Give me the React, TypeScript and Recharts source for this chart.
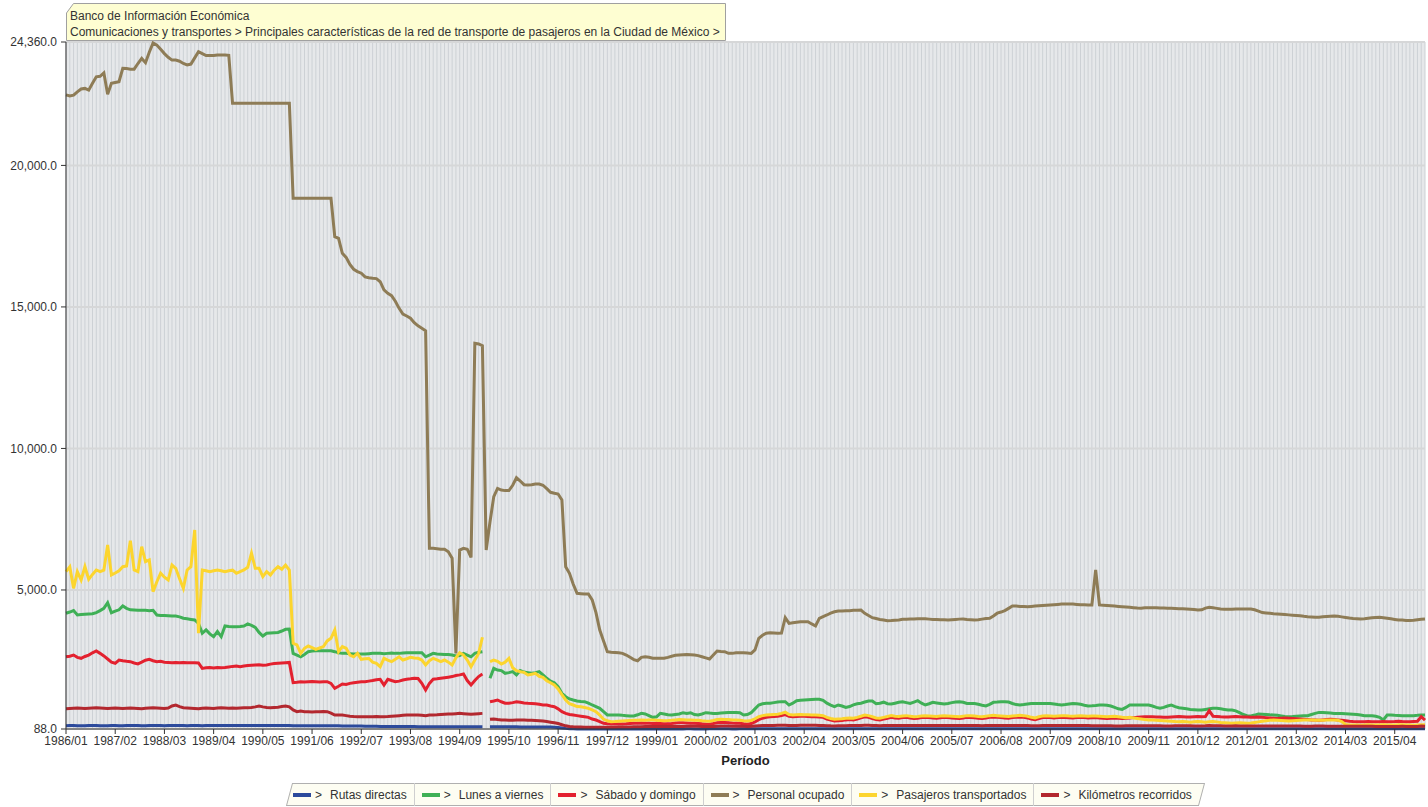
import React from 'react';
import { LineChart, Line, XAxis, YAxis, CartesianGrid } from 'recharts';

// months 1986/01 .. 2015/12
const startYear = 1986;
const endYear = 2015;
const periods: string[] = [];
for (let y = startYear; y <= endYear; y++) {
  for (let m = 1; m <= 12; m++) periods.push(`${y}/${String(m).padStart(2, '0')}`);
}

const yTicks = [88, 5000, 10000, 15000, 20000, 24360];

const rutasDirectas = [
  205, 208, 210, 206, 204, 206, 210, 212, 208, 205, 204, 206,
  208, 210, 206, 205, 208, 210, 212, 208, 206, 205, 208, 210,
  210, 208, 206, 208, 210, 212, 210, 208, 206, 208, 210, 208,
  206, 208, 210, 210, 212, 210, 208, 210, 212, 210, 208, 210,
  212, 214, 212, 210, 212, 214, 215, 214, 212, 214, 215, 212,
  205, 204, 205, 206, 205, 204, 205, 206, 205, 204, 202, 200,
  200, 198, 196, 195, 194, 192, 190, 188, 186, 184, 182, 180,
  178, 176, 175, 175, 174, 174, 173, 172, 172, 171, 170, 170,
  170, 170, 169, 168, 168, 168, 167, 167, 166, 166, 166, 165,
  165, 165, 165, null, 165, 166, 166, 165, 165, 164, 164, 164,
  163, 163, 162, 162, 162, 161, 161, 160, 158, 150, 140, 125,
  110, 100, 95, 92, 90, 90, 90, 90, 90, 90, 90, 90,
  90, 89, 89, 88, 88, 89, 90, 90, 91, 91, 90, 90,
  90, 91, 92, 92, 92, 91, 91, 92, 93, 93, 92, 92,
  92, 92, 93, 93, 94, 94, 93, 93, 92, 92, 93, 93,
  94, 95, 96, 97, 98, 98, 98, 99, 99, 98, 98, 98,
  98, 99, 100, 100, 100, 99, 99, 98, 98, 98, 98, 98,
  98, 98, 99, 99, 100, 100, 100, 99, 99, 98, 98, 98,
  98, 98, 99, 99, 99, 99, 99, 99, 98, 98, 98, 98,
  98, 98, 98, 99, 99, 99, 99, 99, 99, 98, 98, 98,
  98, 98, 98, 98, 99, 99, 99, 99, 99, 99, 98, 98,
  98, 98, 98, 98, 98, 99, 99, 99, 99, 98, 98, 98,
  98, 98, 98, 98, 98, 98, 99, 99, 99, 98, 98, 98,
  97, 97, 97, 97, 98, 98, 98, 98, 98, 97, 97, 97,
  97, 97, 97, 97, 97, 97, 98, 98, 98, 97, 97, 97,
  96, 96, 96, 96, 97, 97, 97, 97, 97, 96, 96, 96,
  96, 96, 96, 96, 96, 96, 96, 96, 96, 96, 96, 96,
  95, 95, 95, 95, 95, 96, 96, 96, 96, 95, 95, 95,
  95, 95, 95, 95, 95, 95, 95, 95, 95, 95, 95, 95,
  94, 94, 94, 94, 94, 94, 94, 94, 94, 94, 94, 94,
];

const lunesAViernes = [
  4176, 4220, 4270, 4116, 4130, 4140, 4150, 4160, 4200, 4270, 4350, 4550,
  4197, 4250, 4300, 4434, 4350, 4300, 4290, 4280, 4280, 4280, 4270, 4280,
  4116, 4100, 4100, 4090, 4080, 4080, 4050, 4000, 3980, 3960, 3940, 3822,
  3470, 3590, 3450, 3350, 3530, 3350, 3727, 3710, 3700, 3700, 3710, 3727,
  3800, 3750, 3680, 3500, 3374, 3470, 3480, 3490, 3500, 3550, 3610, 3620,
  2760, 2700, 2640, 2720, 2820, 2840, 2850, 2850, 2850, 2850, 2850, 2820,
  2780, 2760, 2760, 2750, 2740, 2740, 2740, 2740, 2750, 2760, 2760, 2760,
  2750, 2760, 2770, 2760, 2760, 2770, 2780, 2780, 2784, 2784, 2784, 2640,
  2700, 2760, 2740, 2730, 2720, 2720, 2700, 2670, 2680, 2760, 2700, 2640,
  2760, 2800, 2820, null, 1880, 2230, 2172, 2150, 2055, 2080, 2114, 1996,
  2150, 2100, 2080, 2055, 2080, 2114, 2000, 1880, 1780, 1724, 1583, 1350,
  1230, 1150, 1113, 1080, 1060, 1055, 1000, 936, 880, 819, 700, 583,
  583, 583, 583, 570, 560, 550, 546, 590, 640, 620, 560, 500,
  520, 640, 620, 590, 583, 600, 620, 664, 640, 664, 600, 583,
  620, 664, 650, 640, 640, 650, 660, 670, 675, 675, 660, 583,
  600, 664, 800, 936, 980, 1000, 1000, 1020, 1040, 1055, 1055, 936,
  1000, 1090, 1100, 1110, 1120, 1130, 1140, 1140, 1100, 1000, 930, 876,
  936, 900, 850, 880, 940, 980, 1000, 1040, 1078, 1078, 980, 1000,
  1035, 980, 971, 1000, 1030, 1053, 1020, 990, 1040, 1090, 1000, 936,
  980, 1030, 1010, 990, 971, 990, 1020, 1040, 1053, 1030, 990, 990,
  990, 960, 930, 905, 960, 1030, 1040, 1053, 1053, 1040, 990, 950,
  936, 950, 970, 990, 990, 990, 985, 990, 990, 970, 950, 936,
  950, 970, 990, 980, 960, 930, 905, 910, 920, 936, 936, 930,
  900, 850, 800, 780, 850, 936, 936, 936, 940, 936, 936, 900,
  850, 820, 850, 900, 936, 880, 840, 820, 800, 780, 770, 760,
  760, 780, 800, 820, 820, 800, 780, 760, 760, 730, 664, 600,
  560, 550, 580, 620, 610, 600, 590, 583, 570, 550, 530, 523,
  530, 540, 550, 560, 560, 600, 640, 675, 670, 660, 650, 640,
  640, 635, 630, 620, 610, 600, 580, 560, 560, 555, 540, 500,
  406, 583, 580, 570, 565, 560, 560, 555, 560, 570, 583, 580,
];

const sabadoYDomingo = [
  2640, 2660, 2700, 2620, 2585, 2650, 2700, 2780, 2844, 2760, 2670, 2560,
  2450, 2410, 2525, 2500, 2480, 2466, 2420, 2390, 2450, 2520, 2550, 2500,
  2466, 2480, 2450, 2440, 2430, 2440, 2430, 2440, 2430, 2430, 2430, 2420,
  2230, 2250, 2260, 2240, 2260, 2250, 2260, 2280, 2300, 2310, 2290, 2310,
  2330, 2340, 2350, 2360, 2340, 2350, 2380, 2400, 2410, 2420, 2430, 2440,
  1724, 1740, 1760, 1750, 1760, 1770, 1760, 1750, 1760, 1760, 1700, 1526,
  1600, 1678, 1660, 1700, 1720, 1740, 1760, 1760, 1780, 1800, 1830, 1844,
  1643, 1844, 1800, 1760, 1780, 1820, 1844, 1860, 1880, 1870, 1700, 1466,
  1700, 1844, 1860, 1880, 1900, 1920, 1940, 1980, 2000, 2030, 1800, 1643,
  1800, 1940, 2030, null, 1053, 1080, 1113, 1050, 1000, 995, 1020, 1053,
  1030, 1010, 995, 990, 980, 960, 940, 936, 900, 876, 800, 700,
  640, 600, 583, 560, 540, 523, 500, 440, 406, 350, 290, 275,
  265, 262, 262, 265, 270, 280, 290, 295, 300, 295, 290, 285,
  290, 280, 270, 275, 285, 300, 310, 305, 300, 295, 290, 285,
  270, 260, 255, 280, 310, 320, 315, 310, 300, 295, 290, 270,
  260, 280, 340, 420, 470, 500, 520, 530, 540, 560, 600, 540,
  520, 530, 540, 535, 530, 525, 523, 515, 500, 440, 400, 370,
  380, 390, 410, 420, 410, 440, 480, 520, 500, 460, 420, 410,
  440, 470, 500, 480, 470, 490, 500, 480, 460, 470, 490, 500,
  490, 480, 470, 485, 500, 490, 480, 470, 460, 480, 500, 495,
  485, 470, 460, 480, 500, 510, 500, 490, 480, 470, 490, 500,
  510, 500, 480, 440, 420, 460, 490, 500, 490, 480, 490, 500,
  495, 485, 480, 490, 500, 490, 480, 485, 490, 480, 470, 460,
  470, 480, 470, 460, 470, 480, 490, 500, 510, 520, 523, 520,
  515, 510, 505, 500, 510, 520, 530, 525, 515, 510, 523, 530,
  520, 530, 735, 540, 530, 520, 515, 510, 520, 530, 523, 515,
  510, 505, 500, 510, 500, 490, 480, 470, 460, 470, 480, 470,
  460, 450, 440, 430, 420, 410, 406, 400, 410, 420, 430, 420,
  410, 400, 380, 360, 350, 346, 340, 346, 350, 346, 340, 346,
  350, 340, 346, 350, 360, 350, 346, 340, 350, 360, 523, 400,
];

const personalOcupado = [
  22490, 22450, 22480, 22600, 22700, 22720, 22660, 22900, 23130, 23150, 23270, 22510,
  22900, 22930, 22960, 23430, 23420, 23400, 23400, 23600, 23780, 23630, 24000, 24330,
  24250, 24100, 23950, 23820, 23720, 23720, 23680, 23600, 23550, 23580, 23800, 24020,
  23950, 23880, 23880, 23880, 23900, 23900, 23900, 23890, 22195, 22195, 22195, 22195,
  22195, 22195, 22195, 22195, 22195, 22195, 22195, 22195, 22195, 22195, 22195, 22195,
  18838, 18838, 18838, 18838, 18838, 18838, 18838, 18838, 18838, 18838, 18838, 17480,
  17420, 16895, 16750, 16500, 16330, 16250, 16190, 16060, 16030, 16010, 16000, 15890,
  15600, 15480, 15400, 15200, 14950, 14750, 14680, 14600, 14440, 14330, 14250, 14160,
  6472, 6472, 6460, 6440, 6440, 6350, 6120, 2760, 6410, 6470, 6440, 6150,
  13715, 13690, 13630, 6410, 7400, 8300, 8590, 8530, 8510, 8510, 8700, 8966,
  8850, 8720, 8710, 8720, 8740, 8744, 8700, 8580, 8450, 8415, 8390, 8180,
  5822, 5590, 5200, 4882, 4870, 4860, 4858, 4650, 4200, 3585, 3200, 2820,
  2800, 2790, 2780, 2760, 2700, 2620, 2540, 2500, 2620, 2640, 2620, 2590,
  2585, 2585, 2585, 2620, 2660, 2690, 2700, 2710, 2720, 2710, 2700, 2680,
  2640, 2600, 2560, 2700, 2844, 2830, 2820, 2760, 2760, 2780, 2784, 2780,
  2770, 2760, 2880, 3292, 3400, 3470, 3490, 3480, 3470, 3480, 4020, 3820,
  3840, 3860, 3880, 3880, 3880, 3800, 3727, 4000, 4060, 4116, 4180, 4230,
  4257, 4260, 4265, 4270, 4280, 4285, 4290, 4175, 4100, 4020, 3990, 3960,
  3940, 3915, 3920, 3930, 3940, 3963, 3965, 3970, 3975, 3980, 3985, 3980,
  3970, 3960, 3955, 3950, 3945, 3940, 3950, 3960, 3970, 3975, 3960, 3950,
  3940, 3950, 3970, 3990, 3999, 4080, 4180, 4220, 4270, 4350, 4434, 4430,
  4420, 4415, 4410, 4420, 4430, 4440, 4450, 4460, 4470, 4480, 4490, 4500,
  4500, 4504, 4500, 4490, 4480, 4475, 4470, 4470, 5706, 4470, 4460, 4450,
  4440, 4430, 4420, 4410, 4400, 4390, 4375, 4360, 4355, 4370, 4375, 4375,
  4370, 4365, 4360, 4355, 4350, 4345, 4340, 4338, 4330, 4320, 4310, 4290,
  4300, 4360, 4388, 4370, 4350, 4330, 4317, 4320, 4322, 4325, 4327, 4328,
  4330, 4328, 4300, 4250, 4200, 4190, 4175, 4160, 4150, 4140, 4130, 4120,
  4110, 4100, 4090, 4070, 4055, 4045, 4034, 4040, 4050, 4060, 4070, 4080,
  4070, 4050, 4030, 4010, 3995, 3985, 3975, 3985, 4000, 4015, 4030, 4034,
  4020, 4000, 3980, 3960, 3940, 3935, 3925, 3920, 3930, 3950, 3965, 3975,
];

const pasajerosTransportados = [
  5646, 5820, 5058, 5646, 5352, 5822, 5377, 5550, 5706, 5646, 5700, 6589,
  5529, 5600, 5680, 5822, 5850, 6740, 5706, 5646, 6530, 6000, 6060, 4940,
  5292, 5590, 5450, 5352, 5882, 5765, 5400, 5058, 5706, 5822, 7119, 3470,
  5706, 5680, 5646, 5680, 5706, 5680, 5646, 5680, 5700, 5590, 5650, 5706,
  5800, 6300, 5765, 5765, 5470, 5646, 5530, 5700, 5822, 5730, 5882, 5706,
  3116, 3060, 2760, 2940, 3020, 2960, 2900, 2950, 3000, 3200, 3292, 3585,
  2820, 3000, 2940, 2700, 2640, 2760, 2550, 2570, 2580, 2450, 2410, 2290,
  2585, 2520, 2466, 2550, 2640, 2525, 2570, 2620, 2600, 2585, 2525, 2350,
  2500, 2585, 2530, 2466, 2525, 2450, 2350, 2600, 2784, 2700, 2525, 2290,
  2525, 2760, 3330, null, 2466, 2525, 2480, 2384, 2450, 2585, 2250, 2150,
  2110, 2090, 1996, 2020, 2055, 1950, 1914, 1795, 1720, 1643, 1500, 1300,
  1113, 980, 936, 880, 870, 850, 819, 760, 700, 580, 430, 380,
  346, 350, 360, 370, 380, 390, 395, 400, 405, 400, 406, 410,
  400, 390, 380, 385, 395, 410, 420, 415, 410, 405, 400, 395,
  380, 370, 365, 390, 420, 430, 425, 420, 410, 405, 400, 380,
  370, 390, 450, 523, 560, 580, 590, 600, 610, 640, 680, 600,
  580, 590, 600, 595, 590, 585, 583, 575, 560, 500, 460, 430,
  440, 450, 470, 480, 470, 500, 540, 580, 560, 520, 480, 470,
  500, 530, 560, 540, 530, 550, 560, 540, 520, 530, 550, 560,
  550, 540, 530, 545, 560, 550, 540, 530, 520, 540, 560, 555,
  545, 530, 520, 540, 560, 570, 560, 550, 540, 530, 550, 560,
  570, 560, 540, 500, 480, 520, 550, 560, 550, 540, 550, 560,
  555, 545, 540, 550, 560, 550, 540, 545, 550, 540, 530, 520,
  530, 540, 520, 500, 490, 500, 480, 460, 440, 420, 410, 406,
  400, 390, 380, 370, 360, 350, 346, 350, 340, 330, 346, 350,
  340, 330, 346, 350, 340, 320, 310, 300, 290, 300, 310, 300,
  290, 300, 320, 340, 360, 380, 400, 406, 400, 390, 380, 370,
  380, 390, 400, 406, 410, 406, 400, 395, 400, 406, 410, 406,
  400, 350, 250, 230, 230, 225, 220, 230, 235, 230, 225, 230,
  235, 230, 225, 230, 240, 235, 230, 225, 220, 230, 235, 240,
];

const kilometrosRecorridos = [
  800, 810, 819, 830, 819, 810, 819, 830, 840, 830, 819, 810,
  819, 830, 819, 810, 819, 830, 819, 810, 800, 819, 830, 840,
  830, 819, 810, 830, 900, 936, 880, 840, 830, 819, 810, 800,
  820, 830, 819, 810, 830, 840, 830, 819, 830, 819, 830, 840,
  840, 850, 870, 900, 870, 850, 840, 850, 860, 880, 900, 870,
  760, 700, 720, 700, 700, 690, 700, 700, 710, 700, 650, 583,
  583, 580, 560, 540, 530, 523, 523, 523, 520, 523, 530, 523,
  523, 530, 540, 550, 560, 570, 580, 583, 580, 580, 570, 560,
  583, 583, 590, 600, 610, 620, 620, 630, 640, 630, 620, 610,
  620, 630, 640, null, 430, 440, 420, 406, 406, 400, 400, 406,
  410, 406, 400, 395, 390, 380, 370, 350, 330, 310, 280, 240,
  200, 175, 165, 160, 155, 150, 150, 150, 150, 150, 150, 150,
  150, 152, 155, 158, 160, 162, 165, 168, 170, 172, 175, 175,
  178, 180, 182, 180, 178, 176, 178, 180, 182, 184, 185, 183,
  180, 178, 176, 180, 185, 190, 192, 190, 188, 186, 184, 182,
  180, 185, 195, 205, 210, 212, 215, 215, 218, 220, 222, 215,
  212, 215, 218, 220, 222, 220, 218, 215, 210, 205, 200, 198,
  200, 202, 205, 208, 210, 212, 215, 220, 218, 212, 208, 205,
  208, 210, 212, 210, 208, 210, 212, 214, 212, 210, 212, 214,
  212, 210, 208, 210, 212, 214, 215, 214, 212, 210, 208, 210,
  210, 208, 206, 208, 210, 212, 214, 212, 210, 208, 210, 212,
  214, 212, 210, 205, 200, 205, 210, 212, 210, 208, 210, 212,
  212, 210, 208, 210, 212, 210, 208, 206, 205, 204, 202, 200,
  200, 198, 196, 198, 200, 202, 204, 205, 206, 205, 204, 203,
  202, 200, 198, 196, 198, 200, 202, 203, 202, 200, 198, 198,
  198, 200, 210, 205, 202, 200, 198, 196, 198, 200, 198, 196,
  195, 194, 193, 195, 196, 195, 194, 193, 192, 193, 194, 193,
  192, 191, 190, 189, 188, 189, 190, 191, 190, 189, 188, 187,
  186, 185, 184, 183, 182, 183, 184, 183, 182, 181, 180, 180,
  180, 179, 178, 179, 180, 181, 180, 179, 178, 179, 190, 182,
];

const series = [
  { key: 'rutas', name: 'Rutas directas', color: '#2c4a9c', values: rutasDirectas },
  { key: 'lunes', name: 'Lunes a viernes', color: '#3fb056', values: lunesAViernes },
  { key: 'sabado', name: 'Sábado y domingo', color: '#e3212f', values: sabadoYDomingo },
  { key: 'personal', name: 'Personal ocupado', color: '#8e7c56', values: personalOcupado },
  { key: 'pasajeros', name: 'Pasajeros transportados', color: '#fcd52e', values: pasajerosTransportados },
  { key: 'km', name: 'Kilómetros recorridos', color: '#b3282f', values: kilometrosRecorridos },
];

const rows = periods.map((p, i) => {
  const row: Record<string, any> = { period: p };
  series.forEach((s) => { row[s.key] = s.values[i]; });
  return row;
});

const font = "'Liberation Sans', Arial, sans-serif";

const fmt = (v: number) =>
  v.toLocaleString('en-US', { minimumFractionDigits: 1, maximumFractionDigits: 1 });

const monthLines = ({ offset }: any) =>
  periods.map((_, i) => offset.left + (i * offset.width) / (periods.length - 1));

const App: React.FC = () => {
  return (
    <div style={{ position: 'absolute', left: 0, top: 0, width: 1428, height: 807, fontFamily: font, background: '#fff' }}>
      <LineChart
        width={1428}
        height={807}
        data={rows}
        margin={{ top: 42, right: 3, left: 0, bottom: 38 }}
      >
        <CartesianGrid
          horizontal={false}
          fill="#e6e8ea"
          fillOpacity={1}
          stroke="#cdd1d5"
          verticalCoordinatesGenerator={monthLines}
        />
        <CartesianGrid vertical={false} stroke="#d6d7d8" strokeWidth={2} />
        <XAxis
          dataKey="period"
          interval={12}
          height={40}
          tickSize={5}
          tickMargin={2}
          axisLine={{ stroke: '#333' }}
          tickLine={{ stroke: '#333' }}
          tick={{ fill: '#333', fontSize: 12, fontFamily: font }}
          label={{ value: 'Período', position: 'insideBottom', offset: 4, fill: '#222', fontSize: 13, fontWeight: 'bold', fontFamily: font }}
        />
        <YAxis
          width={66}
          domain={[88, 24360]}
          ticks={yTicks}
          interval={0}
          tickSize={5}
          tickMargin={4}
          tickFormatter={fmt}
          axisLine={{ stroke: '#333' }}
          tickLine={{ stroke: '#333' }}
          tick={{ fill: '#333', fontSize: 12, fontFamily: font }}
        />
        {series.map((s) => (
          <Line
            key={s.key}
            type="linear"
            dataKey={s.key}
            name={s.name}
            stroke={s.color}
            strokeWidth={3}
            dot={false}
            activeDot={false}
            isAnimationActive={false}
          />
        ))}
      </LineChart>

      {/* info box */}
      <div style={{ position: 'absolute', left: 66, top: 3, width: 660, height: 38 }}>
        <svg width={660} height={38} style={{ position: 'absolute', left: 0, top: 0 }}>
          <polygon points="7.5,0.5 659.5,0.5 659.5,37.5 0.5,37.5 0.5,10" fill="#fefed2" stroke="#a0a0a0" />
        </svg>
        <div style={{ position: 'absolute', left: 4, top: 5, fontSize: 12, lineHeight: '16px', color: '#333', whiteSpace: 'nowrap' }}>
          <div>Banco de Información Económica</div>
          <div>Comunicaciones y transportes &gt; Principales características de la red de transporte de pasajeros en la Ciudad de México &gt;</div>
        </div>
      </div>

      {/* legend */}
      <div style={{ position: 'absolute', left: 286, top: 783, height: 23 }}>
        <div
          style={{
            position: 'absolute', left: 3, right: -3, top: 0, bottom: 0,
            background: '#fdfdf2', border: '1px solid #b0b0b0', transform: 'skewX(-15deg)',
          }}
        />
        <div style={{ position: 'relative', display: 'flex', height: 23, alignItems: 'center', fontSize: 12, color: '#333' }}>
          {series.map((s, i) => (
            <div
              key={s.key}
              style={{
                display: 'flex', alignItems: 'center', height: 23, padding: '0 7px 0 7px',
                borderLeft: i === 0 ? 'none' : '1px solid #cfcfcf', whiteSpace: 'nowrap',
              }}
            >
              <span style={{ display: 'inline-block', width: 18, height: 4, background: s.color, marginRight: 4 }} />
              <span style={{ marginRight: 8 }}>&gt;</span>
              <span>{s.name}</span>
            </div>
          ))}
        </div>
      </div>
    </div>
  );
};

export default App;
